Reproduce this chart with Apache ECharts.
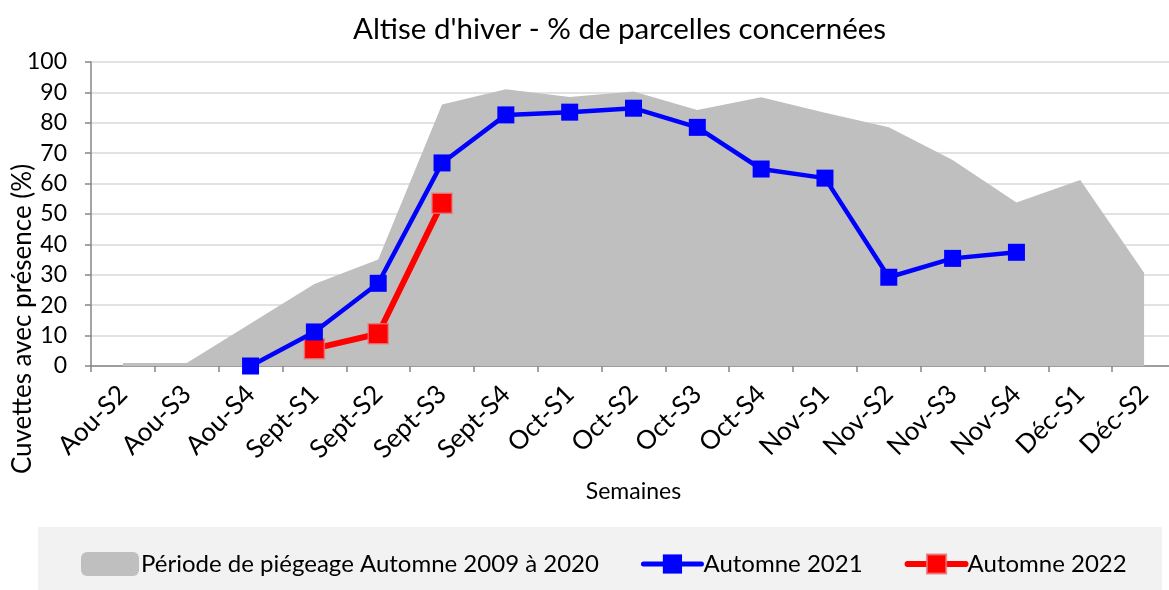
<!DOCTYPE html>
<html>
<head>
<meta charset="utf-8">
<title>Altise d'hiver</title>
<script src="https://cdn.jsdelivr.net/npm/echarts@6/dist/echarts.min.js"></script>
<style>
  html, body { margin: 0; padding: 0; background: #fff; }
  #main { width: 1169px; height: 590px; }
</style>
</head>
<body>
<div id="main"></div>
<script>
'use strict';

/* ===== Data ===== */
var semaines = ['Aou-S2', 'Aou-S3', 'Aou-S4', 'Sept-S1', 'Sept-S2', 'Sept-S3', 'Sept-S4',
  'Oct-S1', 'Oct-S2', 'Oct-S3', 'Oct-S4', 'Nov-S1', 'Nov-S2', 'Nov-S3', 'Nov-S4', 'Déc-S1', 'Déc-S2'];

// periode de piegeage 2009 - 2020 (zone grise)
var periode = [1, 1, 14, 27, 35, 86, 91, 88.5, 90.3, 84.2, 88.4, 83.3, 78.5, 67.8, 53.8, 61.2, 30.7];

var automne2021 = [null, null, 0, 11.2, 27.2, 66.8, 82.6, 83.5, 84.8, 78.5, 64.8, 61.8, 29.2, 35.4, 37.4, null, null];

var automne2022 = [null, null, null, 5.7, 10.6, 53.5, null, null, null, null, null, null, null, null, null, null, null];

var yTicks = { min: 0, max: 100, interval: 10 };

var FONT = 'Lato';

var myChart = echarts.init(document.getElementById('main'));

var option = {
  animation: false,
  textStyle: { fontFamily: FONT, color: '#000' },
  title: {
    text: "Altise d'hiver - % de parcelles concernées",
    left: 348,
    top: 9,
    textStyle: { fontFamily: FONT, fontSize: 29.5, fontWeight: 'normal', color: '#000' }
  },
  graphic: [
    {
      // fond de la legende
      type: 'rect',
      left: 38,
      top: 527,
      z: -1,
      shape: { width: 1124, height: 70 },
      style: { fill: '#f2f2f2' }
    }
  ],
  legend: {
    left: 76,
    top: 547,
    itemGap: 42,
    itemWidth: 58,
    itemHeight: 24,
    textStyle: { fontFamily: FONT, fontSize: 24, color: '#000', padding: [0, 0, 0, -3] },
    data: [
      { name: 'Période de piégeage Automne 2009 à 2020', icon: 'roundRect', itemStyle: { color: '#bfbfbf' } },
      { name: 'Automne 2021', lineStyle: { width: 5, cap: 'round', color: '#0000ff' } },
      { name: 'Automne 2022', lineStyle: { width: 6, cap: 'round', color: '#ff0000' } }
    ]
  },
  grid: {
    left: 91,
    right: -7,
    top: 62,
    bottom: 224,
    outerBoundsMode: 'none',
    containLabel: false
  },
  xAxis: {
    type: 'category',
    data: semaines,
    boundaryGap: true,
    name: 'Semaines',
    nameLocation: 'middle',
    nameGap: 114,
    nameMoveOverlap: false,
    nameTextStyle: { fontFamily: FONT, fontSize: 23, color: '#000' },
    axisLine: { lineStyle: { color: '#868686', width: 1.5 } },
    axisTick: { show: true, length: 6, lineStyle: { color: '#868686', width: 1.5 } },
    axisLabel: {
      rotate: 45,
      interval: 0,
      margin: 24,
      fontFamily: FONT,
      fontSize: 26,
      color: '#000'
    }
  },
  yAxis: {
    type: 'value',
    min: yTicks.min,
    max: yTicks.max,
    interval: yTicks.interval,
    name: 'Cuvettes avec présence (%)',
    nameLocation: 'middle',
    nameGap: 55,
    nameRotate: 90,
    nameMoveOverlap: false,
    nameTextStyle: { fontFamily: FONT, fontSize: 26, color: '#000', padding: [0, 210, 0, 0] },
    axisLine: { show: true, lineStyle: { color: '#868686', width: 1.5 } },
    axisTick: { show: true, length: 6, lineStyle: { color: '#868686', width: 1.5 } },
    axisLabel: { margin: 24, fontFamily: FONT, fontSize: 23, color: '#000' },
    splitLine: { show: true, lineStyle: { color: '#d9d9d9', width: 1.5 } }
  },
  series: [
    {
      name: 'Période de piégeage Automne 2009 à 2020',
      type: 'line',
      data: periode,
      symbol: 'none',
      lineStyle: { width: 0, color: '#bfbfbf' },
      itemStyle: { color: '#bfbfbf' },
      areaStyle: { color: '#bfbfbf', opacity: 1 },
      z: 1
    },
    {
      name: 'Automne 2021',
      type: 'line',
      data: automne2021,
      symbol: 'rect',
      symbolSize: 17,
      lineStyle: { width: 4.5, color: '#0000ff' },
      itemStyle: { color: '#0000ff' },
      z: 3
    },
    {
      name: 'Automne 2022',
      type: 'line',
      data: automne2022,
      symbol: 'rect',
      symbolSize: 20,
      lineStyle: { width: 6, color: '#ff0000' },
      itemStyle: { color: '#ff0000', borderColor: 'rgba(230,120,120,0.8)', borderWidth: 1.5 },
      z: 2
    }
  ]
};

myChart.setOption(option);
</script>
</body>
</html>
